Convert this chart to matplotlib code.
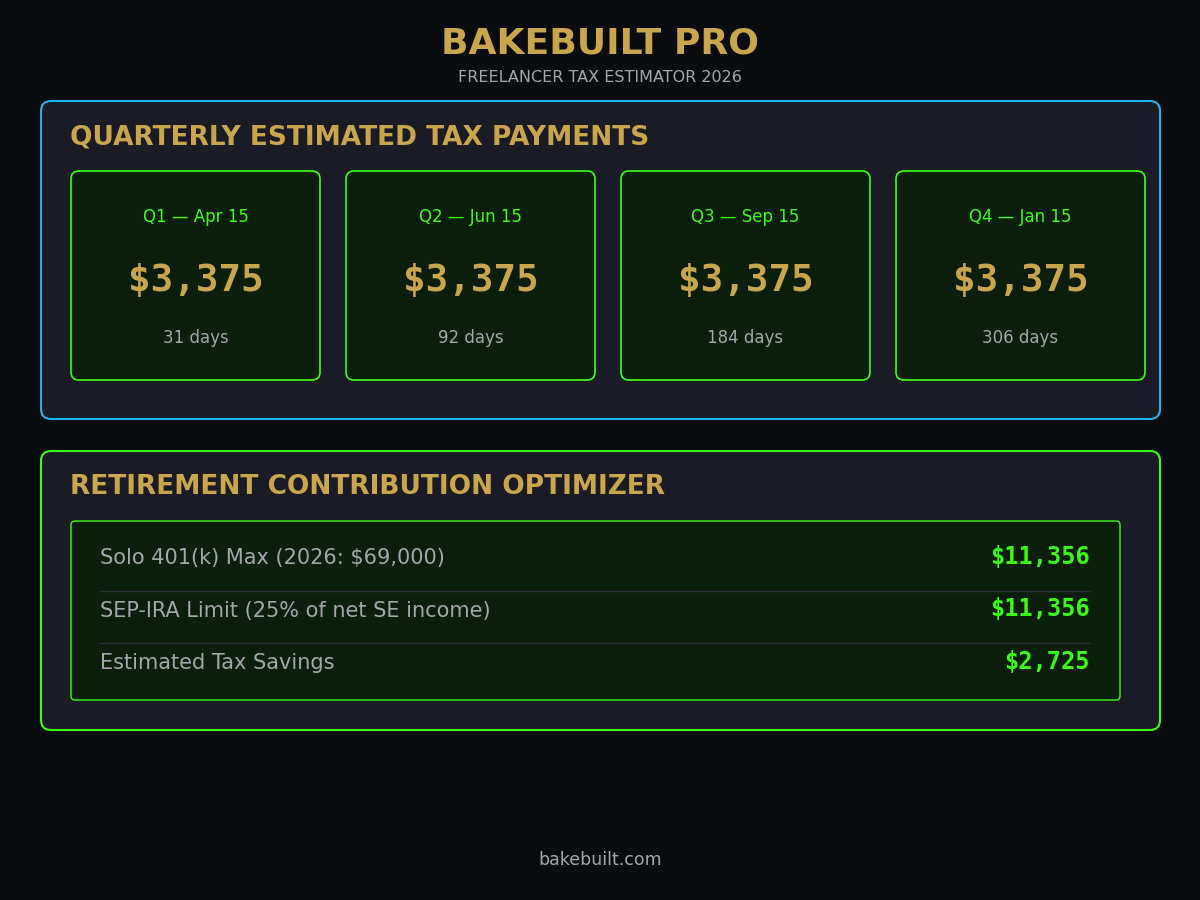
import matplotlib
matplotlib.use("Agg")
import matplotlib.pyplot as plt
from matplotlib.patches import FancyBboxPatch

title = "BAKEBUILT PRO"
subtitle = "FREELANCER TAX ESTIMATOR 2026"
quarters = ["Q1 — Apr 15", "Q2 — Jun 15", "Q3 — Sep 15", "Q4 — Jan 15"]
amounts = [3375, 3375, 3375, 3375]
days = [31, 92, 184, 306]
ret_labels = ["Solo 401(k) Max (2026: $69,000)", "SEP-IRA Limit (25% of net SE income)", "Estimated Tax Savings"]
ret_values = [11356, 11356, 2725]
footer = "bakebuilt.com"

BG = "#0a0b0f"; PANEL = "#1b1b25"; CYAN = "#1fb4e8"; GREEN = "#39ff14"
CARD = "#0b1d0b"; GOLD = "#c9a54b"; GRAY = "#a3a7ab"

fig = plt.figure(figsize=(12, 9), dpi=100, facecolor=BG)
ax = fig.add_axes([0, 0, 1, 1])
ax.set_xlim(0, 1200); ax.set_ylim(900, 0); ax.axis("off")

def box(x, y, w, h, fc, ec, lw=1.5, r=10):
    ax.add_patch(FancyBboxPatch((x, y), w, h, boxstyle=f"round,pad=0,rounding_size={r}",
                                fc=fc, ec=ec, lw=lw))

ax.text(600, 44, title, color=GOLD, fontsize=26, fontweight="bold", ha="center", va="center")
ax.text(600, 78, subtitle, color=GRAY, fontsize=11.5, ha="center", va="center")

box(41, 101, 1119, 318, PANEL, CYAN)
ax.text(70, 137, "QUARTERLY ESTIMATED TAX PAYMENTS", color=GOLD, fontsize=19, fontweight="bold", va="center")
for i, (q, a, d) in enumerate(zip(quarters, amounts, days)):
    x = 71 + i * 275
    box(x, 171, 249, 209, CARD, GREEN, lw=1.2, r=8)
    cx = x + 124.5
    ax.text(cx, 217, q, color=GREEN, fontsize=12, ha="center", va="center")
    ax.text(cx, 281, f"${a:,}", color=GOLD, fontsize=27, fontweight="bold",
            family="DejaVu Sans Mono", ha="center", va="center")
    ax.text(cx, 338, f"{d} days", color=GRAY, fontsize=12, ha="center", va="center")

box(41, 451, 1119, 279, PANEL, GREEN)
ax.text(70, 487, "RETIREMENT CONTRIBUTION OPTIMIZER", color=GOLD, fontsize=19, fontweight="bold", va="center")
box(71, 521, 1049, 179, CARD, GREEN, lw=1, r=4)
for i, (lab, v) in enumerate(zip(ret_labels, ret_values)):
    y = 558 + i * 52.5
    ax.text(100, y, lab, color=GRAY, fontsize=15, va="center")
    ax.text(1090, y - 1, f"${v:,}", color=GREEN, fontsize=17, fontweight="bold",
            family="DejaVu Sans Mono", ha="right", va="center")
    if i < len(ret_labels) - 1:
        ax.plot([100, 1090], [y + 32.5, y + 32.5], color="#2a2f33", lw=1)

ax.text(600, 860, footer, color=GRAY, fontsize=12.5, ha="center", va="center")
fig.savefig("out.png", dpi=100, facecolor=BG)
